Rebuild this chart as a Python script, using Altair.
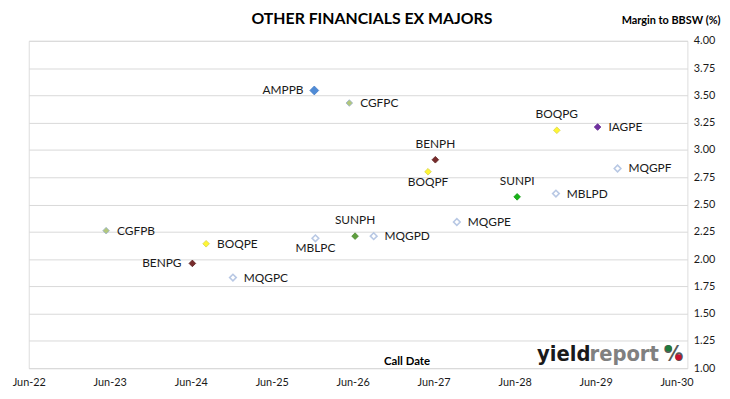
import altair as alt
import pandas as pd

# ---- data ----
codes = ["AMPPB", "CGFPC", "BOQPG", "IAGPE", "BENPH", "BOQPF", "MQGPF", "SUNPI", "MBLPD",
         "MQGPE", "CGFPB", "BOQPE", "BENPG", "MQGPC", "MBLPC", "SUNPH", "MQGPD"]
call_dates = ["2025-12-10", "2026-05-17", "2028-12-08", "2029-06-10", "2027-06-09", "2027-05-07",
              "2029-09-08", "2028-06-12", "2028-12-04", "2027-09-14", "2023-05-16", "2024-08-09",
              "2024-06-08", "2024-12-08", "2025-12-15", "2026-06-12", "2026-09-04"]
margins = [3.545, 3.43, 3.18, 3.21, 2.91, 2.80, 2.83, 2.57, 2.60,
           2.34, 2.26, 2.14, 1.96, 1.83, 2.19, 2.21, 2.21]
label_side = ["left", "right", "above", "right", "above", "below", "right", "above", "right",
              "right", "right", "right", "left", "right", "below", "above", "right"]
y_ticks = [1.00, 1.25, 1.50, 1.75, 2.00, 2.25, 2.50, 2.75, 3.00, 3.25, 3.50, 3.75, 4.00]
tick_years = list(range(2022, 2031))

# ---- styles ----
fill_map = {"AMPPB": "#4F8BD6", "CGFPC": "#B2C77C", "CGFPB": "#B2C77C",
            "BOQPG": "#FFF633", "BOQPF": "#FFF633", "BOQPE": "#FFF633",
            "IAGPE": "#7030A0", "BENPH": "#772B2B", "BENPG": "#772B2B",
            "SUNPI": "#17B317", "SUNPH": "#5E9E3E",
            "MQGPF": "#FFFFFF", "MBLPD": "#FFFFFF", "MQGPE": "#FFFFFF", "MQGPC": "#FFFFFF",
            "MBLPC": "#FFFFFF", "MQGPD": "#FFFFFF"}
stroke_map = {"AMPPB": "#4A80C8", "CGFPC": "#9BB2CE", "CGFPB": "#9BB2CE",
              "BOQPG": "#D6D24E", "BOQPF": "#D6D24E", "BOQPE": "#D6D24E",
              "IAGPE": "#63298F", "BENPH": "#5E2020", "BENPG": "#5E2020",
              "SUNPI": "#139913", "SUNPH": "#528C36",
              "MQGPF": "#B8C8E4", "MBLPD": "#B8C8E4", "MQGPE": "#B8C8E4", "MQGPC": "#B8C8E4",
              "MBLPC": "#B8C8E4", "MQGPD": "#B8C8E4"}
hollow = ["MQGPF", "MBLPD", "MQGPE", "MQGPC", "MBLPC", "MQGPD"]

FONT = "Lato"
GRID = "#D9D9D9"
TXT = "#1a1a1a"

df = pd.DataFrame({
    "code": codes,
    "date": [d + "T00:00:00" for d in call_dates],
    "margin": margins,
    "side": label_side,
})

x_enc = alt.X(
    "date:T",
    scale=alt.Scale(domain=[alt.DateTime(year=2022, month=6, date=1),
                            alt.DateTime(year=2030, month=7, date=20)]),
    axis=alt.Axis(values=[alt.DateTime(year=y, month=6, date=1) for y in tick_years],
                  format="%b-%y", grid=False, domain=False, ticks=False, labelPadding=9,
                  labelFlush=False, labelOverlap=False,
                  labelFont=FONT, labelFontSize=11, labelColor=TXT,
                  title="Call Date", titleFont=FONT, titleFontSize=11.5, titleFontWeight="bold",
                  titleColor="#000", titleX=382, titleY=-4, titleAlign="center",
                  titleBaseline="alphabetic"),
)
y_enc = alt.Y(
    "margin:Q",
    scale=alt.Scale(domain=[1, 4], nice=False, zero=False),
    axis=alt.Axis(orient="right", values=y_ticks, format=".2f", grid=True, gridColor=GRID,
                  domain=False, ticks=False, labelPadding=6, labelFlush=False,
                  labelFont=FONT, labelFontSize=11, labelColor=TXT,
                  title="Margin to BBSW (%)", titleFont=FONT, titleFontSize=11,
                  titleFontWeight="bold", titleColor="#000", titleAngle=0, titleAlign="right",
                  titleBaseline="middle", titleX=33, titleY=-21),
)

base = alt.Chart(df)

points = base.mark_point(shape="diamond", filled=True, strokeWidth=1.0, opacity=1).encode(
    x=x_enc, y=y_enc,
    fill=alt.Fill("code:N", scale=alt.Scale(domain=list(fill_map), range=list(fill_map.values())),
                  legend=None),
    stroke=alt.Stroke("code:N", scale=alt.Scale(domain=list(stroke_map), range=list(stroke_map.values())),
                      legend=None),
    strokeWidth=alt.condition(alt.FieldOneOfPredicate(field="code", oneOf=hollow),
                              alt.value(1.6), alt.value(0.8)),
    size=alt.condition(alt.datum.code == "AMPPB", alt.value(80), alt.value(45)),
)

def labels(side, **kw):
    return base.transform_filter(alt.datum.side == side).mark_text(
        font=FONT, fontSize=12, color=TXT, **kw
    ).encode(x=x_enc, y=y_enc, text="code:N")

lab_r = labels("right", align="left", baseline="middle", dx=11)
lab_l = labels("left", align="right", baseline="middle", dx=-11)
lab_a = labels("above", align="center", baseline="middle", dy=-16)
lab_b = labels("below", align="center", baseline="middle", dy=10)

# ---- yieldreport logo (decoration) ----
one = pd.DataFrame({"k": [0]})
logo_font = "DejaVu Sans Condensed"
logo_y = alt.value(324)
def logo_text(txt, x, color):
    return alt.Chart(one).mark_text(text=txt, font=logo_font, fontSize=22, fontWeight="bold",
                                    color=color, align="left", baseline="alphabetic").encode(
        x=alt.value(x), y=logo_y)
logo1 = logo_text("yield", 514, "#1a1a1a")
logo2 = logo_text("report", 567, "#808080")
logo3 = logo_text("%", 642, "#595959")
dot_g = alt.Chart(one).mark_point(shape="circle", filled=True, color="#1E7B3A", opacity=1, size=38).encode(
    x=alt.value(647), y=alt.value(311))
dot_r = alt.Chart(one).mark_point(shape="circle", filled=True, color="#C8102E", opacity=1, size=38).encode(
    x=alt.value(657), y=alt.value(320))

chart = alt.layer(points, lab_r, lab_l, lab_a, lab_b, logo1, logo2, logo3, dot_g, dot_r).properties(
    width=666, height=331,
    title=alt.TitleParams("OTHER FINANCIALS EX MAJORS", font=FONT, fontSize=16, fontWeight="bold",
                          color="#000", anchor="middle", dx=14, dy=21, offset=8),
    autosize=alt.AutoSizeParams(type="none"),
    padding={"left": 21, "top": 31, "right": 35, "bottom": 29},
).configure_view(stroke=GRID, strokeWidth=1).configure(background="white")

chart.save("out.html", embed_options={"renderer": "svg", "actions": False})
